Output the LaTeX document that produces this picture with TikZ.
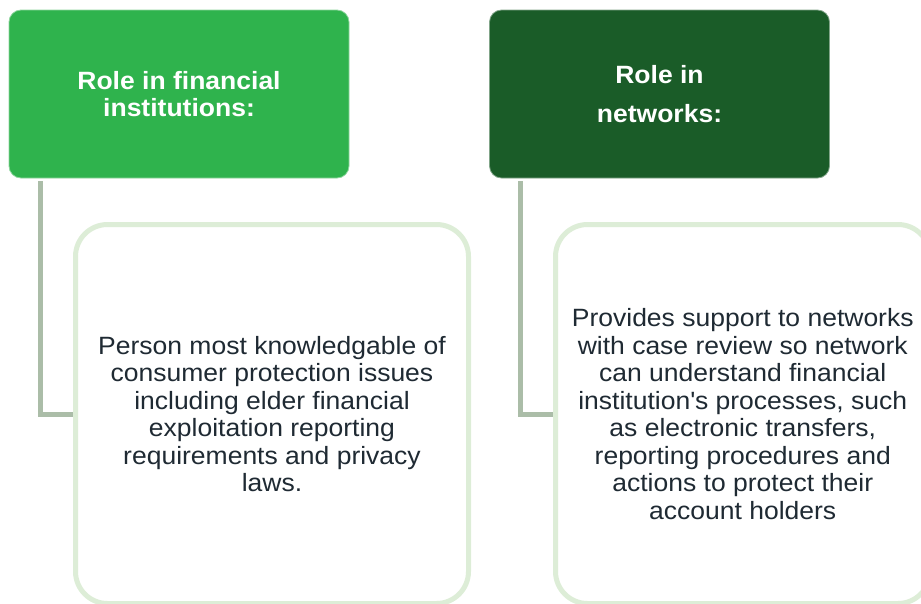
\documentclass[tikz,border=0pt]{standalone}
\usepackage{fontspec}
\setmainfont[FakeStretch=1.06]{Liberation Sans}
\definecolor{hdrA}{HTML}{2FB34D}
\definecolor{hdrB}{HTML}{1A5C28}
\definecolor{connC}{HTML}{ABBDA8}
\definecolor{boxC}{HTML}{DDEDD7}
\definecolor{txtC}{HTML}{1F2A33}
\begin{document}
\begin{tikzpicture}[x=1pt,y=-1pt,
  hdr/.style={rectangle, rounded corners=12pt, minimum width=340pt, minimum height=168pt,
    inner sep=0pt, text=white, font=\bfseries\fontsize{25}{27}\selectfont, align=center, line width=0.8pt},
  child/.style={rectangle, rounded corners=32pt, draw=boxC, line width=5pt, minimum width=393pt,
    minimum height=379pt, inner sep=0pt, text=txtC, font=\fontsize{25}{27.5}\selectfont, align=center, fill=white},
  conn/.style={draw=connC, line width=5pt}]
\useasboundingbox (0,0) rectangle (921,603);
\clip (0,0) rectangle (921,603);
\node[hdr, fill=hdrA, draw=hdrA!55!white] (h1) at (179,94) {Role in financial\\institutions:};
\node[hdr, fill=hdrB, draw=hdrB!55!white, font=\bfseries\fontsize{25}{39}\selectfont] (h2) at (659.5,94) {Role in\\networks:};
\node[child] (c1) at (272,414) {Person most knowledgable of\\consumer protection issues\\including elder financial\\exploitation reporting\\requirements and privacy\\laws.};
\node[child, minimum width=374.5pt] (c2) at (742.75,414) {Provides support to networks\\with case review so network\\can understand financial\\institution\textquotesingle s processes, such\\as electronic transfers,\\reporting procedures and\\actions to protect their\\account holders};
\draw[conn] ([xshift=31.5pt,yshift=-3pt]h1.south west) |- (c1.west);
\draw[conn] ([xshift=31.5pt,yshift=-3pt]h2.south west) |- (c2.west);
\end{tikzpicture}
\end{document}
